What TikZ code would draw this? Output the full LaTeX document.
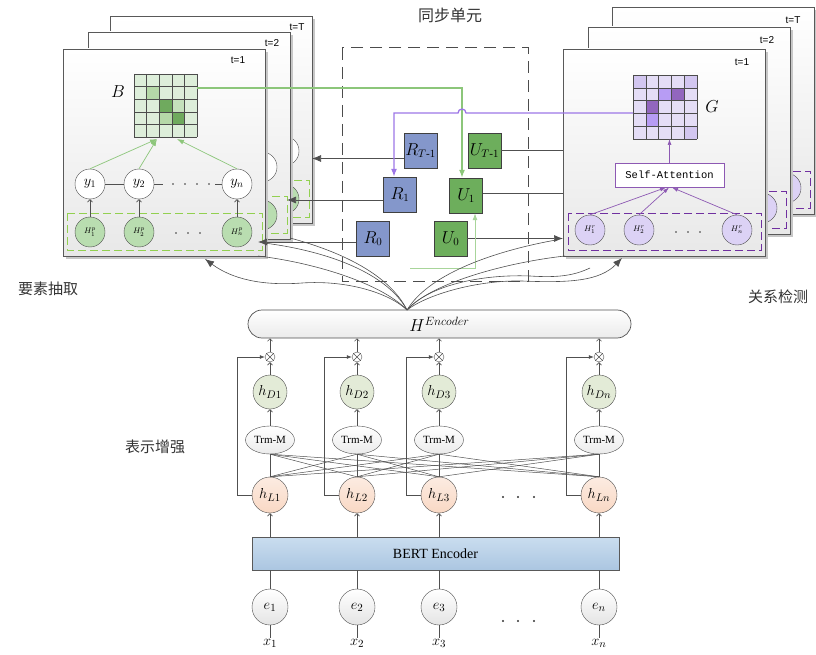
\documentclass[tikz,border=0pt]{standalone}
\usepackage{amsmath}
\usepackage{fontspec}
\setmainfont{Liberation Serif}
\newfontfamily\cjk{Noto Sans CJK SC}
\newfontfamily\sansf{Liberation Sans}
\newfontfamily\monof{Liberation Mono}
\usetikzlibrary{arrows.meta,shapes.geometric,calc}
\definecolor{gL}{HTML}{DDEEDA}
\definecolor{gM}{HTML}{B5D8A8}
\definecolor{gD}{HTML}{6FAA5E}
\definecolor{pL}{HTML}{E4DDF6}
\definecolor{pLM}{HTML}{D2C6F0}
\definecolor{pM}{HTML}{B79CF4}
\definecolor{pD}{HTML}{9266BE}
\definecolor{hpfill}{HTML}{B9DDB0}
\definecolor{hrfill}{HTML}{DCD2F5}
\definecolor{gdash}{HTML}{92D050}
\definecolor{pdash}{HTML}{7030A0}
\definecolor{gline}{HTML}{8CC67A}
\definecolor{pline}{HTML}{9D76E6}
\definecolor{glight}{HTML}{A8D59A}
\definecolor{rblue}{HTML}{8497CB}
\definecolor{ugreen}{HTML}{6DAE5C}
\definecolor{hdfill}{HTML}{E3EBD7}
\definecolor{hlfill}{HTML}{F9D8C4}
\definecolor{efill}{HTML}{E4E4E4}
\definecolor{bertT}{HTML}{CADDEF}
\definecolor{bertB}{HTML}{ABC6E1}
\definecolor{lnc}{HTML}{505050}
\newif\ifFront
\tikzset{
 panel/.style={draw=gray!70!black, line width=0.8pt, top color=white, bottom color=black!9},
 tlab/.style={font=\sansf\fontsize{10}{10}\selectfont},
 ycirc/.style={circle, draw=gray!60!black, fill=white, minimum size=30pt, inner sep=0pt, font=\fontsize{14}{14}\selectfont},
 hpc/.style={circle, draw=gray!60!black, fill=hpfill, minimum size=30pt, inner sep=0pt, font=\fontsize{8}{8}\selectfont},
 hrc/.style={hpc, fill=hrfill},
 gbox/.style={draw=gdash, line width=0.8pt, dash pattern=on 8pt off 4pt},
 pbox/.style={draw=pdash, line width=0.8pt, dash pattern=on 8pt off 4pt},
 garr/.style={draw=gline, line width=0.7pt, -{Latex[length=7pt,width=5pt]}},
 parr/.style={draw=pdash!80, line width=0.7pt, -{Latex[length=6pt,width=4pt]}},
 upar/.style={draw=lnc, line width=0.6pt, -{Straight Barb[length=2.5pt,width=5pt]}},
 big/.style={draw=lnc, line width=0.7pt, -{Latex[length=9pt,width=7pt]}},
 cv/.style={draw=lnc, line width=0.6pt},
 gridl/.style={draw=gray!60!black, line width=0.5pt},
 sbox/.style={draw=gray!50!black, minimum width=33pt, minimum height=35pt, inner sep=0pt, font=\fontsize{16}{16}\selectfont},
 sabox/.style={draw=pdash!80, fill=white, line width=0.8pt, minimum width=109pt, minimum height=24pt, inner sep=0pt, font=\monof\fontsize{10.5}{10.5}\selectfont},
 dotf/.style={fill=black!80},
 cjklab/.style={font=\cjk\fontsize{15}{15}\selectfont, text=black!80},
}
\newcommand\LPanel[5]{%
\begin{scope}[shift={(#1,#2)}]
\fill[black!22] (66,52) rectangle (268,259);
\draw[panel] (63,49) rectangle (265,256);
\node[tlab] at (#4,60) {#3};
\ifFront
\foreach \rr in {0,...,4}{\foreach \cc in {0,...,4}{\fill[gL] ({134+12.6*\cc},{74+12.6*\rr}) rectangle ++(12.6,12.6);}}
\fill[gM] (146.6,86.6) rectangle ++(12.6,12.6);
\fill[gD] (159.2,99.2) rectangle ++(12.6,12.6);
\fill[gM!60!gL] (171.8,99.2) rectangle ++(12.6,12.6);
\fill[gM] (159.2,111.8) rectangle ++(12.6,12.6);
\fill[gD] (171.8,111.8) rectangle ++(12.6,12.6);
\foreach \k in {0,...,5}{\draw[gridl] ({134+12.6*\k},74) -- ++(0,63); \draw[gridl] (134,{74+12.6*\k}) -- ++(63,0);}
\node[font=\fontsize{16}{16}\selectfont] at (118,92) {$B$};
\fi
\node[ycirc] (ya#5) at (90,184) {\ifFront$y_1$\fi};
\node[ycirc] (yb#5) at (139,184) {\ifFront$y_2$\fi};
\node[ycirc] (yn#5) at (237,184) {\ifFront$y_n$\fi};
\draw[lnc] (ya#5) -- (yb#5);
\draw[lnc] (yb#5.east) -- ++(9,0);
\draw[lnc] (yn#5.west) -- ++(-7,0);
\foreach \q in {173,185,197,209}{\fill[dotf] (\q,184) circle (0.9);}
\node[hpc] (pa#5) at (90,232) {\ifFront$H^{p}_{1}$\fi};
\node[hpc] (pb#5) at (139,232) {\ifFront$H^{p}_{2}$\fi};
\node[hpc] (pn#5) at (237,232) {\ifFront$H^{p}_{n}$\fi};
\foreach \q in {176,188,200}{\fill[dotf] (\q,233) circle (0.9);}
\draw[gbox] (67,213) rectangle (262,250);
\draw[upar] (pa#5) -- (ya#5);
\draw[upar] (pb#5) -- (yb#5);
\draw[upar] (pn#5) -- (yn#5);
\draw[garr] (ya#5.north) -- (157,139);
\draw[garr] (yb#5.north) -- (157,139);
\draw[garr] (yn#5.north) -- (177,139);
\end{scope}}
\newcommand\RPanel[5]{%
\begin{scope}[shift={(#1,#2)}]
\fill[black!22] (566,52) rectangle (768,259);
\draw[panel] (563,49) rectangle (765,256);
\node[tlab] at (#4,62) {#3};
\ifFront
\foreach \rr in {0,...,4}{\foreach \cc in {0,...,4}{\fill[pL] ({633+12.8*\cc},{75+12.8*\rr}) rectangle ++(12.8,12.8);}}
\fill[pLM] (633,75) rectangle ++(12.8,12.8);
\fill[pLM] (684.2,75) rectangle ++(12.8,12.8);
\fill[pM] (658.6,87.8) rectangle ++(12.8,12.8);
\fill[pD] (671.4,87.8) rectangle ++(12.8,12.8);
\fill[pD] (645.8,100.6) rectangle ++(12.8,12.8);
\fill[pM] (645.8,113.4) rectangle ++(12.8,12.8);
\fill[pLM] (684.2,126.2) rectangle ++(12.8,12.8);
\foreach \k in {0,...,5}{\draw[gridl] ({633+12.8*\k},75) -- ++(0,64); \draw[gridl] (633,{75+12.8*\k}) -- ++(64,0);}
\node[font=\fontsize{16}{16}\selectfont] at (712,107) {$G$};
\fi
\node[sabox] (sa#5) at (669.5,175) {\ifFront Self-Attention\fi};
\draw[parr] (sa#5.north) -- (669.5,139);
\node[hrc] (ra#5) at (590,230) {\ifFront$H^{r}_{1}$\fi};
\node[hrc] (rb#5) at (639,230) {\ifFront$H^{r}_{2}$\fi};
\node[hrc] (rn#5) at (737,230) {\ifFront$H^{r}_{n}$\fi};
\foreach \q in {676,688,700}{\fill[dotf] (\q,232) circle (0.9);}
\draw[pbox] (568,213) rectangle (761,250);
\draw[parr] (ra#5.north) -- (666,187.5);
\draw[parr] (rb#5.north) -- (669,187.5);
\draw[parr] (rn#5.north) -- (672,187.5);
\end{scope}}
\begin{document}
\begin{tikzpicture}[x=1pt,y=-1pt]
\useasboundingbox (0,0) rectangle (816,655);
% ---------- left stack ----------
\Frontfalse
\LPanel{47}{-33}{t=T}{250}{c}
\LPanel{25}{-17}{t=2}{247}{b}
\RPanel{49}{-42}{t=T}{744}{c}
\RPanel{25}{-22}{t=2}{742}{b}
\Fronttrue
\LPanel{0}{0}{t=1}{238}{a}
\RPanel{0}{0}{t=1}{742}{a}
% ---------- synchronisation unit ----------
\node[cjklab, font=\cjk\fontsize{16}{16}\selectfont] (title) at (450,15) {同步单元};
\draw[draw=black!70, line width=1pt, dash pattern=on 12pt off 7pt] (342,48) rectangle (528,281);
\node[sbox, fill=rblue] (RT) at (420.5,150.5) {$R_{T\text{-}1}$};
\node[sbox, fill=rblue] (R1) at (400,194.5) {$R_{1}$};
\node[sbox, fill=rblue] (R0) at (373,238.5) {$R_{0}$};
\node[sbox, fill=ugreen] (UT) at (484.5,150.5) {$U_{T\text{-}1}$};
\node[sbox, fill=ugreen] (U1) at (466,195.5) {$U_{1}$};
\node[sbox, fill=ugreen] (U0) at (450.5,238.5) {$U_{0}$};
\draw[big] ([yshift=-8pt]RT.west) -- (312,158.5);
\draw[big] ([yshift=-5.5pt]R1.west) -- (287,200);
\draw[big] ([yshift=-3.5pt]R0.west) -- (258,242);
\draw[cv] (UT.east) -- (563,150.5);
\draw[cv] ([yshift=2.5pt]U1.east) -- (563,193);
\draw[big] (U0.east) -- (563,238.5);
% green line B -> U1
\draw[draw=gline, line width=1.3pt, -{Latex[length=8pt,width=6pt]}] (197,88) -| ([xshift=-4pt]U1.north);
% purple line G -> R1
\draw[draw=pline, line width=1.3pt, -{Latex[length=8pt,width=6pt]}] (633,113) -- (466,113) arc[start angle=0, end angle=-180, radius=4] -- (394,113) -- ([xshift=-6pt]R1.north);
% light green into U1
\draw[draw=glight, line width=0.8pt, -{Latex[length=7pt,width=5pt]}] (410,268) -| ([xshift=9pt]U1.south);
% ---------- encoder ----------
\node[draw=lnc, line width=0.7pt, rounded corners=14pt, minimum width=383pt, minimum height=28pt, top color=white, bottom color=black!8, font=\fontsize{17}{17}\selectfont] (enc) at (439.5,324) {$H^{Encoder}$};
\coordinate (apex) at (407,310);
% curves to the left
\draw[cv] (apex) .. controls (385,270) and (320,250) .. (264,243);
\draw[cv] (apex) .. controls (380,282) and (310,262) .. (258,256);
\draw[cv] (apex) .. controls (388,272) and (335,250) .. (290,238);
\draw[cv, -{Latex[length=9pt,width=7pt]}] (apex) .. controls (388,292) and (345,280) .. (302,283) .. controls (262,286) and (232,279) .. (205,259);
% curves to the right
\draw[cv] (apex) .. controls (430,272) and (500,250) .. (556,240);
\draw[cv] (apex) .. controls (432,282) and (510,262) .. (565,256);
\draw[cv] (apex) .. controls (428,286) and (480,274) .. (530,276) .. controls (560,278) and (575,275) .. (590,268);
\draw[cv, -{Latex[length=9pt,width=7pt]}] (apex) .. controls (428,294) and (478,280) .. (522,281) .. controls (570,283) and (600,281) .. (622,258);
% ---------- labels ----------
\node[cjklab] (lab1) at (48,289) {要素抽取};
\node[cjklab] (lab2) at (778,297) {关系检测};
\node[cjklab] (lab3) at (155,447) {表示增强};
% ---------- BERT ----------
\node[draw=gray!70!black, line width=0.7pt, top color=bertT, bottom color=bertB, minimum width=367pt, minimum height=33pt, font=\fontsize{14}{14}\selectfont] (bert) at (435.5,553.5) {BERT Encoder};
\foreach \i/\x/\s in {1/270/1, 2/357/2, 3/439/3, 4/599/n}{
 \node[circle, draw=lnc, fill=white, minimum size=10pt, inner sep=0pt] (ot\i) at (\x,357) {};
 \draw[lnc, line width=0.5pt] (ot\i.north east) -- (ot\i.south west) (ot\i.north west) -- (ot\i.south east);
 \node[circle, draw=gray!60!black, fill=hdfill, minimum size=34pt, inner sep=0pt, font=\fontsize{15}{15}\selectfont] (hD\i) at (\x,392) {$h_{D\s}$};
 \node[ellipse, draw=gray!60!black, top color=white, bottom color=black!8, minimum width=49pt, minimum height=28pt, inner sep=0pt, font=\fontsize{11}{11}\selectfont] (tm\i) at (\x,440) {Trm-M};
 \node[circle, draw=gray!60!black, top color=hlfill!50, bottom color=hlfill, minimum size=36pt, inner sep=0pt, font=\fontsize{15}{15}\selectfont] (hL\i) at (\x,495) {$h_{L\s}$};
 \node[circle, draw=gray!60!black, top color=white, bottom color=efill, minimum size=36pt, inner sep=0pt, font=\fontsize{15}{15}\selectfont] (e\i) at (\x,607) {$e_{\s}$};
 \node[font=\fontsize{15}{15}\selectfont, inner sep=1pt] (xl\i) at (\x,643) {$x_{\s}$};
 \draw[upar] (ot\i.north) -- (ot\i.north |- enc.south);
 \draw[upar] (hD\i.north) -- (ot\i.south);
 \draw[upar] (tm\i.north) -- (hD\i.south);
 \draw[lnc, line width=0.6pt] (hL\i.north) -- (tm\i.south);
 \draw[upar] (hL\i.south |- bert.north) -- (hL\i.south);
 \draw[lnc, line width=0.6pt] (e\i.north) -- (e\i.north |- bert.south);
 \draw[lnc, line width=0.6pt] (e\i.south) -- (xl\i.north);
 \draw[lnc, line width=0.7pt, -{Latex[length=5pt,width=4pt]}] (hL\i.west) -- ++(-14,0) |- (ot\i.west);
}
\foreach \i in {1,...,4}{\foreach \j in {1,...,4}{\ifnum\i=\j\else\draw[lnc, line width=0.5pt] (tm\i.south) -- (hL\j.north);\fi}}
\foreach \q in {503,518,534}{\fill[dotf] (\q,497) circle (1.1); \fill[dotf] (\q,621) circle (1.1);}
\end{tikzpicture}
\end{document}
